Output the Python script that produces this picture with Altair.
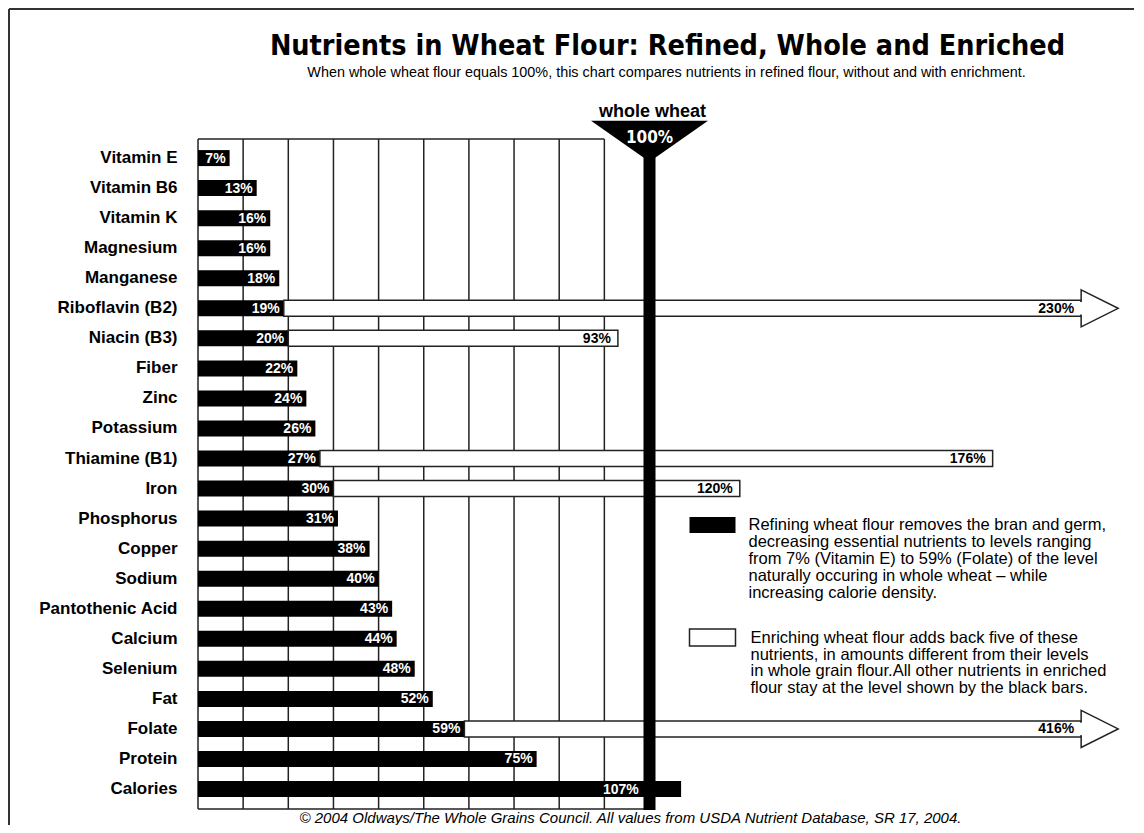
import altair as alt
import pandas as pd

# ---------------- data ----------------
nutrients = ["Vitamin E", "Vitamin B6", "Vitamin K", "Magnesium", "Manganese",
             "Riboflavin (B2)", "Niacin (B3)", "Fiber", "Zinc", "Potassium",
             "Thiamine (B1)", "Iron", "Phosphorus", "Copper", "Sodium",
             "Pantothenic Acid", "Calcium", "Selenium", "Fat", "Folate",
             "Protein", "Calories"]
refined = [7, 13, 16, 16, 18, 19, 20, 22, 24, 26, 27, 30, 31, 38, 40, 43, 44,
           48, 52, 59, 75, 107]
enriched_names = ["Riboflavin (B2)", "Niacin (B3)", "Thiamine (B1)", "Iron", "Folate"]
enriched_values = [230, 93, 176, 120, 416]
grid_values = [0, 10, 20, 30, 40, 50, 60, 70, 80, 90]

title_text = "Nutrients in Wheat Flour: Refined, Whole and Enriched"
subtitle_text = ("When whole wheat flour equals 100%, this chart compares nutrients "
                 "in refined flour, without and with enrichment.")
footer_text = ("\u00a9 2004 Oldways/The Whole Grains Council.  All values from USDA "
               "Nutrient Database, SR 17, 2004.")
legend_black = ["Refining wheat flour removes the bran and germ,",
                "decreasing essential nutrients to levels ranging",
                "from 7% (Vitamin E) to 59% (Folate) of the level",
                "naturally occuring in whole wheat \u2013 while",
                "increasing calorie density."]
legend_white = ["Enriching wheat flour adds back five of these",
                "nutrients, in amounts different from their levels",
                "in whole grain flour.All other nutrients in enriched",
                "flour stay at the level shown by the black bars."]

# ---------------- layout constants ----------------
W, H = 903, 670
X_MAX = 200
ARROW_CAP = 195.6     # off-scale enriched values are drawn as arrows ending here
ARROW_HALF = 4.1      # half length of arrow head, in % units
LABEL_CAP = 98.5      # value labels stay left of the 100% line

SANS = "Liberation Sans, Arial, Helvetica, sans-serif"
NARROW = "DejaVu Sans Condensed, Liberation Sans, sans-serif"
LINE = "#222222"

df = pd.DataFrame({"nutrient": nutrients, "refined": refined})
df["label"] = df["refined"].astype(str) + "%"
df["label_x"] = df["refined"].clip(upper=LABEL_CAP)

en = pd.DataFrame({"nutrient": enriched_names, "enriched": enriched_values})
en = en.merge(df[["nutrient", "refined"]], on="nutrient")
en["end"] = en["enriched"].clip(upper=ARROW_CAP)
en["label"] = en["enriched"].astype(str) + "%"
arrows = en[en["enriched"] > ARROW_CAP].copy()
arrows["head"] = ARROW_CAP + ARROW_HALF
arrows["p0"] = ARROW_CAP - 0.45
arrows["p1"] = ARROW_CAP + 0.5

refs = pd.DataFrame({"x0": [0], "x90": [90], "x100": [100]})

xscale = alt.Scale(domain=[0, X_MAX], nice=False, zero=True)
yscale = alt.Scale(paddingInner=0, paddingOuter=0.15, align=0.45)
Y = alt.Y("nutrient:N", sort=nutrients, scale=yscale,
          axis=alt.Axis(title=None, domain=False, ticks=False, grid=False,
                        labelFont=SANS, labelFontSize=17, labelFontWeight="bold",
                        labelColor="black", labelPadding=21))


def X(field):
    return alt.X(field, type="quantitative", scale=xscale, axis=None)


grid = alt.Chart(pd.DataFrame({"g": grid_values})).mark_rule(
    color=LINE, strokeWidth=1.5).encode(
    x=X("g"), y=alt.value(0), y2=alt.value(H))

top_line = alt.Chart(refs).mark_rule(color=LINE, strokeWidth=1.5).encode(
    x=X("x0"), x2="x90:Q", y=alt.value(0))
bottom_line = alt.Chart(refs).mark_rule(color=LINE, strokeWidth=1.5).encode(
    x=X("x0"), x2="x100:Q", y=alt.value(H))

black_bars = alt.Chart(df).mark_bar(height=16, color="black").encode(
    x=X("refined"), y=Y)

white_bars = alt.Chart(en).mark_bar(height=16, fill="white", stroke=LINE,
                                    strokeWidth=1.5).encode(
    x=X("refined"), x2="end:Q", y=Y)

heads = alt.Chart(arrows).mark_point(
    shape="M-1,-1L1,0L-1,1Z", filled=True, fill="white", stroke=LINE,
    strokeWidth=1.5, size=37 * 37, opacity=1).encode(
    x=X("head"), y=Y)

patches = alt.Chart(arrows).mark_bar(height=12.5, color="white").encode(
    x=X("p0"), x2="p1:Q", y=Y)

thick = alt.Chart(refs).mark_rule(color="black", strokeWidth=12).encode(
    x=X("x100"), y=alt.value(15), y2=alt.value(H + 1))

funnel = alt.Chart(refs).mark_point(
    shape="M-1,-0.35L1,-0.35L0,0.35Z", filled=True, color="black",
    size=117 * 117, opacity=1).encode(
    x=X("x100"), y=alt.value(2.2))

ww_text = alt.Chart(refs).mark_text(
    text="whole wheat", font=SANS, fontSize=18, fontWeight="bold",
    color="black", align="center", baseline="alphabetic", dx=3).encode(
    x=X("x100"), y=alt.value(-22))
hundred = alt.Chart(refs).mark_text(
    text="100%", font=NARROW, fontSize=17, fontWeight="bold",
    color="white", align="center", baseline="alphabetic").encode(
    x=X("x100"), y=alt.value(4))

black_labels = alt.Chart(df).mark_text(
    font=SANS, fontSize=14, fontWeight="bold", color="white",
    align="right", baseline="middle", dx=-4, dy=0.5).encode(
    x=X("label_x"), y=Y, text="label:N")

white_labels = alt.Chart(en).mark_text(
    font=SANS, fontSize=14, fontWeight="bold", color="black",
    align="right", baseline="middle", dx=-7, dy=0.5).encode(
    x=X("end"), y=Y, text="label:N")

leg_black_box = alt.Chart(refs).mark_rect(color="black").encode(
    x=alt.value(491.5), x2=alt.value(537.5), y=alt.value(378), y2=alt.value(394))
leg_white_box = alt.Chart(refs).mark_rect(fill="white", stroke=LINE,
                                          strokeWidth=1.5).encode(
    x=alt.value(491.5), x2=alt.value(537.5), y=alt.value(490), y2=alt.value(507))

legend_layers = []
for i, line in enumerate(legend_black):
    legend_layers.append(alt.Chart(refs).mark_text(
        text=line, font=SANS, fontSize=16.5, color="black",
        align="left", baseline="alphabetic").encode(
        x=alt.value(550.5), y=alt.value(391 + 17 * i)))
for i, line in enumerate(legend_white):
    legend_layers.append(alt.Chart(refs).mark_text(
        text=line, font=SANS, fontSize=16.5, color="black",
        align="left", baseline="alphabetic").encode(
        x=alt.value(552.5), y=alt.value(504 + 16.5 * i)))

title = alt.Chart(refs).mark_text(
    text=title_text, font=NARROW, fontSize=28.5, fontWeight="bold", color="black",
    align="center", baseline="alphabetic").encode(
    x=alt.value(469.5), y=alt.value(-84))
subtitle = alt.Chart(refs).mark_text(
    text=subtitle_text, font=SANS, fontSize=14.4, color="black",
    align="center", baseline="alphabetic").encode(
    x=alt.value(468.5), y=alt.value(-62))
footer = alt.Chart(refs).mark_text(
    text=footer_text, font=SANS, fontSize=15, fontStyle="italic", color="black",
    align="center", baseline="alphabetic").encode(
    x=alt.value(432.5), y=alt.value(683.5))

border_top = alt.Chart(refs).mark_rule(color="#333333", strokeWidth=2).encode(
    x=alt.value(-189), x2=alt.value(936), y=alt.value(-130))
border_left = alt.Chart(refs).mark_rule(color="#333333", strokeWidth=2).encode(
    x=alt.value(-189), y=alt.value(-130), y2=alt.value(690))

chart = alt.layer(
    grid, top_line, bottom_line, black_bars, white_bars, heads, patches,
    thick, funnel, ww_text, hundred, black_labels, white_labels,
    leg_black_box, leg_white_box, *legend_layers,
    title, subtitle, footer, border_top, border_left
).properties(
    width=W, height=H,
    autosize=alt.AutoSizeParams(type="none"),
    padding={"left": 190, "top": 131, "right": 33, "bottom": 16},
    background="white"
).configure_view(strokeWidth=0)

chart.save("out.html", embed_options={"renderer": "svg", "actions": False})
